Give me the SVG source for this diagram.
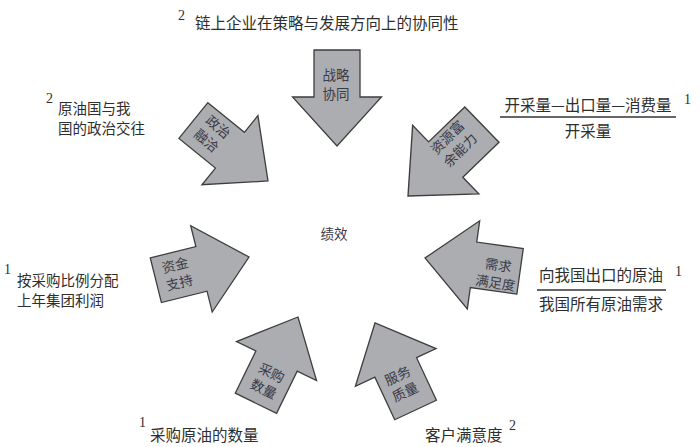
<svg xmlns="http://www.w3.org/2000/svg" xmlns:xlink="http://www.w3.org/1999/xlink" width="700" height="447" viewBox="0 0 700 447">
<style>
.arr{fill:#acadb0;stroke:#3e3e3e;stroke-width:1.3;stroke-linejoin:miter}
.lab{font-family:"Noto Sans CJK SC","Noto Sans CJK TC",sans-serif;font-size:13.5px;fill:#3a3a48;text-anchor:middle;dominant-baseline:central}
.out{font-family:"Noto Sans CJK SC","Noto Sans CJK TC",sans-serif;font-size:15.5px;fill:#2e2e2e}
.two{font-size:14.5px}
.mid{text-anchor:middle}
.sup{font-family:"Liberation Serif",serif;font-size:14px;fill:#2e2e2e}
.rule{stroke:#333;stroke-width:1.3}
</style>
<defs>
<polygon id="arrow" class="arr" points="-96,-23 -49,-23 -49,-44.5 0,0 -49,44.5 -49,23 -96,23"/>
</defs>
<rect width="700" height="447" fill="#fff"/>

<g id="center">
<text class="lab" x="334" y="233">绩效</text>
</g>

<g id="strategy">
<use xlink:href="#arrow" transform="translate(337,146) rotate(90)"/>
<text class="lab" x="336" y="74">战略</text>
<text class="lab" x="336" y="93">协同</text>
<text class="sup" x="178" y="20">2</text>
<text class="out" x="195" y="29">链上企业在策略与发展方向上的协同性</text>
</g>

<g id="politics">
<use xlink:href="#arrow" transform="translate(268,181) rotate(39)"/>
<g transform="translate(213,133) rotate(40)">
<text class="lab" x="0" y="-9">政治</text>
<text class="lab" x="0" y="9">融洽</text>
</g>
<text class="sup" x="46" y="103">2</text>
<text class="out two" x="58" y="114">原油国与我</text>
<text class="out two" x="58" y="134">国的政治交往</text>
</g>

<g id="resources">
<use xlink:href="#arrow" transform="translate(408,196) rotate(136) scale(1.07)"/>
<g transform="translate(453,143) rotate(-45)">
<text class="lab" x="0" y="-9">资源富</text>
<text class="lab" x="0" y="9">余能力</text>
</g>
<text class="out mid" x="588" y="111">开采量—出口量—消费量</text>
<line class="rule" x1="500" y1="117" x2="676" y2="117"/>
<text class="out mid" x="588" y="137">开采量</text>
<text class="sup" x="684" y="104">1</text>
</g>

<g id="funding">
<use xlink:href="#arrow" transform="translate(249,257) rotate(-14)"/>
<g transform="translate(177,273) rotate(-14)">
<text class="lab" x="0" y="-9">资金</text>
<text class="lab" x="0" y="9">支持</text>
</g>
<text class="sup" x="4" y="274">1</text>
<text class="out two" x="17" y="286">按采购比例分配</text>
<text class="out two" x="17" y="306">上年集团利润</text>
</g>

<g id="demand">
<use xlink:href="#arrow" transform="translate(425,258) rotate(188)"/>
<g transform="translate(497,273) rotate(9)">
<text class="lab" x="0" y="-9">需求</text>
<text class="lab" x="0" y="9">满足度</text>
</g>
<text class="out mid" x="601" y="281">向我国出口的原油</text>
<line class="rule" x1="537" y1="290" x2="666" y2="290"/>
<text class="out mid" x="601" y="310">我国所有原油需求</text>
<text class="sup" x="675" y="276">1</text>
</g>

<g id="quantity">
<use xlink:href="#arrow" transform="translate(298,317) rotate(-64)"/>
<g transform="translate(268,380) rotate(26)">
<text class="lab" x="0" y="-9">采购</text>
<text class="lab" x="0" y="9">数量</text>
</g>
<text class="sup" x="139" y="427">1</text>
<text class="out" x="150" y="441">采购原油的数量</text>
</g>

<g id="service">
<use xlink:href="#arrow" transform="translate(375,323) rotate(-115)"/>
<g transform="translate(401,383) rotate(-25)">
<text class="lab" x="0" y="-9">服务</text>
<text class="lab" x="0" y="9">质量</text>
</g>
<text class="out" x="425" y="441">客户满意度</text>
<text class="sup" x="509" y="430">2</text>
</g>
</svg>
